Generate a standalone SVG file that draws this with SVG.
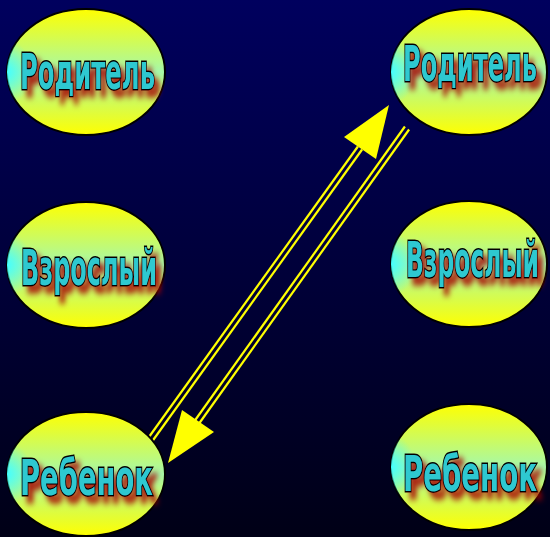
<svg xmlns="http://www.w3.org/2000/svg" width="550" height="537" viewBox="0 0 550 537">
<defs>
<linearGradient id="bg" x1="0" y1="0" x2="0" y2="1">
<stop offset="0" stop-color="#00005e"/>
<stop offset="1" stop-color="#000016"/>
</linearGradient>
<linearGradient id="fillV" x1="0" y1="0" x2="0" y2="1">
<stop offset="0" stop-color="#ffff00"/>
<stop offset="0.5" stop-color="#a6f8a8"/>
<stop offset="1" stop-color="#ffff00"/>
</linearGradient>
<radialGradient id="cyan" cx="0" cy="0.5" r="0.16" gradientTransform="translate(0,0.5) scale(1,1.6) translate(0,-0.5)">
<stop offset="0" stop-color="#44ffff" stop-opacity="1"/>
<stop offset="1" stop-color="#44ffff" stop-opacity="0"/>
</radialGradient>
<filter id="sh" x="-20%" y="-40%" width="150%" height="200%">
<feGaussianBlur in="SourceAlpha" stdDeviation="5 3"/>
<feOffset dx="9" dy="7" result="b"/>
<feFlood flood-color="#a80000" flood-opacity="0.85"/>
<feComposite in2="b" operator="in" result="s"/>
<feMerge><feMergeNode in="s"/><feMergeNode in="SourceGraphic"/></feMerge>
</filter>
</defs>
<style>
.ov{fill:url(#fillV);stroke:#000;stroke-width:2}
.oc{fill:url(#cyan);stroke:none}
.lb{font-family:"DejaVu Sans Condensed","DejaVu Sans","Liberation Sans",sans-serif;font-stretch:condensed;font-weight:bold;font-size:50px;fill:#2ec8d0;stroke:#000;stroke-width:2.8;paint-order:stroke;filter:url(#sh)}
.ln{stroke:#ffff00;stroke-width:2.2;fill:none}
.hd{fill:#ffff00}
</style>
<rect width="550" height="537" fill="url(#bg)"/>
<g id="connectors">
<g id="arrow-up">
<line class="ln" x1="147.9" y1="438.5" x2="357.9" y2="146.5"/>
<line class="ln" x1="152.1" y1="441.5" x2="362.1" y2="149.5"/>
<polygon class="hd" points="389,105 344,137 376,159"/>
</g>
<g id="arrow-down">
<line class="ln" x1="404.9" y1="126.5" x2="194.9" y2="420.5"/>
<line class="ln" x1="409.1" y1="129.5" x2="199.1" y2="423.5"/>
<polygon class="hd" points="168,463 182,410 214,432"/>
</g>
</g>
<g id="parent-left">
<ellipse class="ov" cx="86" cy="72" rx="79" ry="63"/>
<ellipse class="oc" cx="86" cy="72" rx="79" ry="63"/>
<text class="lb" transform="translate(20,89) scale(0.55,1)" x="0" y="0" textLength="245.5" lengthAdjust="spacingAndGlyphs">Родитель</text>
</g>
<g id="adult-left">
<ellipse class="ov" cx="86" cy="265" rx="79" ry="63"/>
<ellipse class="oc" cx="86" cy="265" rx="79" ry="63"/>
<text class="lb" transform="translate(21,285) scale(0.55,1)" x="0" y="0" textLength="247.3" lengthAdjust="spacingAndGlyphs">Взрослый</text>
</g>
<g id="child-left">
<ellipse class="ov" cx="86" cy="474" rx="79" ry="62"/>
<ellipse class="oc" cx="86" cy="474" rx="79" ry="62"/>
<text class="lb" transform="translate(20,495) scale(0.55,1)" x="0" y="0" textLength="241.8" lengthAdjust="spacingAndGlyphs">Ребенок</text>
</g>
<g id="parent-right">
<ellipse class="ov" cx="469" cy="72" rx="78" ry="63"/>
<ellipse class="oc" cx="469" cy="72" rx="78" ry="63"/>
<text class="lb" transform="translate(403,81) scale(0.55,1)" x="0" y="0" textLength="243.6" lengthAdjust="spacingAndGlyphs">Родитель</text>
</g>
<g id="adult-right">
<ellipse class="ov" cx="469" cy="264" rx="78" ry="63"/>
<ellipse class="oc" cx="469" cy="264" rx="78" ry="63"/>
<text class="lb" transform="translate(406,277) scale(0.55,1)" x="0" y="0" textLength="241.8" lengthAdjust="spacingAndGlyphs">Взрослый</text>
</g>
<g id="child-right">
<ellipse class="ov" cx="469" cy="467" rx="78" ry="63"/>
<ellipse class="oc" cx="469" cy="467" rx="78" ry="63"/>
<text class="lb" transform="translate(403,491) scale(0.55,1)" x="0" y="0" textLength="243.6" lengthAdjust="spacingAndGlyphs">Ребенок</text>
</g>
</svg>
